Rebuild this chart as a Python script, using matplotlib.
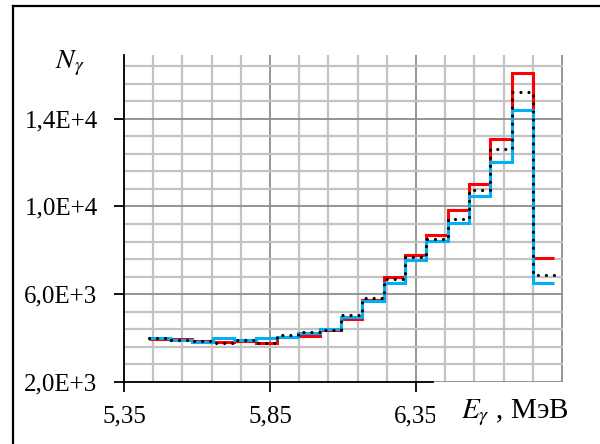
import matplotlib
matplotlib.use('Agg')
import matplotlib.pyplot as plt
import numpy as np
from matplotlib.lines import Line2D
from matplotlib.patches import Rectangle

plt.rcParams['font.family'] = ['Liberation Serif', 'DejaVu Serif']
plt.rcParams['mathtext.fontset'] = 'stix'

# bin edges of the spectrum, MeV
edges = [5.436, 5.509, 5.582, 5.655, 5.728, 5.801, 5.874, 5.947, 6.020, 6.093,
         6.166, 6.239, 6.312, 6.385, 6.458, 6.531, 6.604, 6.677, 6.750, 6.823]

red_vals = [3980, 3940, 3880, 3830, 3880, 3790, 4045, 4110, 4360, 4890,
            5720, 6790, 7770, 8710, 9820, 11030, 13050, 16100, 7650]
blue_vals = [3990, 3910, 3830, 4025, 3895, 3985, 4060, 4250, 4420, 4970,
             5700, 6515, 7545, 8420, 9260, 10455, 12015, 14395, 6515]
dot_vals = [4010, 3910, 3865, 3760, 3895, 3760, 4135, 4280, 4380, 5045,
            5830, 6710, 7700, 8500, 9410, 10760, 12620, 15195, 6860]

xticks = [5.35, 5.85, 6.35]
xticklabels = ['5,35', '5,85', '6,35']
yticks = [2000, 6000, 10000, 14000]
yticklabels = ['2,0E+3', '6,0E+3', '1,0E+4', '1,4E+4']

fig = plt.figure(figsize=(6, 4.44), dpi=100)
ax = fig.add_axes([124 / 600, 62 / 444, 439 / 600, 327 / 444])

ax.set_xlim(5.35, 6.853)
ax.set_ylim(2000, 16900)

# grid
for x in np.arange(5.35, 6.86, 0.1):
    major = abs(((x - 5.35) / 0.5) - round((x - 5.35) / 0.5)) < 1e-6
    ax.axvline(x, color='#8c8c8c' if major else '#c3c3c3',
               lw=1.3 if major else 1.6, zorder=1)
for y in np.arange(2000, 16900, 800):
    major = (y - 2000) % 4000 == 0
    ax.axhline(y, color='#8c8c8c' if major else '#c3c3c3',
               lw=1.3 if major else 1.6, zorder=1)

ax.stairs(red_vals, edges, baseline=None, color='#ff0000', lw=2.2, zorder=3)
ax.stairs(blue_vals, edges, baseline=None, color='#00b0f0', lw=2.2, zorder=4)
ax.stairs(dot_vals, edges, baseline=None, color='black', lw=2.3,
          linestyle=(0, (0.01, 2.5)), capstyle='round', zorder=5)

ax.set_xticks(xticks)
ax.set_xticklabels(xticklabels, fontsize=18)
ax.set_yticks(yticks)
ax.set_yticklabels(yticklabels, fontsize=18)
ax.tick_params(direction='out', length=7, width=1.3, color='black')
ax.tick_params(axis='x', pad=10)
ax.tick_params(axis='y', pad=12)

ax.spines['top'].set_visible(False)
ax.spines['right'].set_visible(False)
ax.spines['left'].set_linewidth(1.3)
ax.spines['bottom'].set_linewidth(1.3)
ax.spines['bottom'].set_bounds(5.35, 6.408)

# box hiding the end of the last tick label, then the axis label
fig.add_artist(Rectangle((435 / 600, 0.01), 0.3, 0.095, transform=fig.transFigure,
                         facecolor='white', edgecolor='none', zorder=2))
fig.text(461 / 600, 1 - 413 / 444, r'$E_\gamma$ , МэВ', fontsize=21,
         ha='left', va='center', zorder=3)
fig.text(70 / 600, 1 - 63 / 444, r'$N_\gamma$', fontsize=20,
         ha='center', va='center')

# outer frame (top and left only visible)
fig.add_artist(Line2D([13 / 600, 13 / 600], [0, 1 - 6 / 444],
                      transform=fig.transFigure, color='black', lw=1.6))
fig.add_artist(Line2D([13 / 600, 1], [1 - 6 / 444, 1 - 6 / 444],
                      transform=fig.transFigure, color='black', lw=1.6))

fig.savefig('out.png', dpi=100)
